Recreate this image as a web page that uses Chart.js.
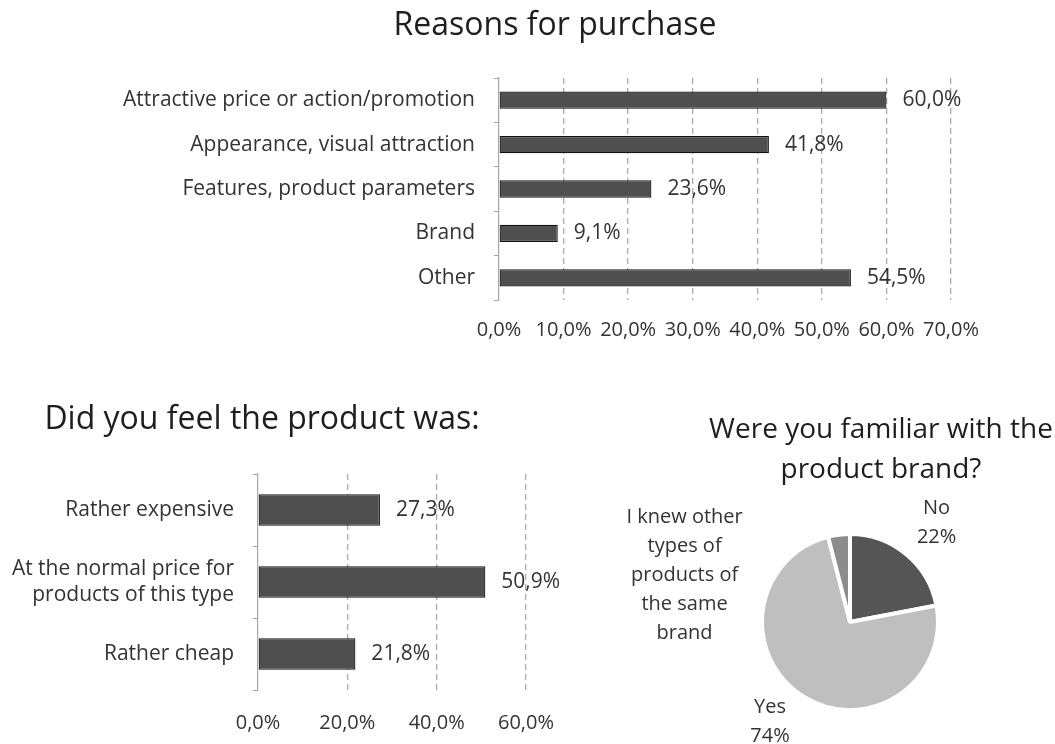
<!DOCTYPE html>
<html>
<head>
<meta charset="utf-8">
<script src="https://cdn.jsdelivr.net/npm/chart.js@4"></script>
<style>
  html, body { margin: 0; padding: 0; background: #fff; overflow: hidden; }
  body { width: 1055px; height: 744px; position: relative; }
  canvas { position: absolute; }
  #reasons { left: 0; top: 0; }
  #priceFeel { left: -2px; top: 395px; }
  #brandPie { left: 600px; top: 395px; }
  .heading {
    position: absolute; text-align: center; color: #1e1e1e;
    font-family: "Open Sans", sans-serif; white-space: nowrap;
  }
  #reasonsTitle { left: 355px; top: 4px; width: 400px; font-size: 32px; line-height: 38px; }
  #brandTitle { left: 706px; top: 407px; width: 350px; font-size: 28px; line-height: 40px; }
</style>
</head>
<body>
<canvas id="reasons" width="1055" height="350"></canvas>
<canvas id="priceFeel" width="620" height="345"></canvas>
<canvas id="brandPie" width="455" height="349"></canvas>
<div id="reasonsTitle" class="heading">Reasons for purchase</div>
<div id="brandTitle" class="heading">Were you familiar with the<br>product brand?</div>
<script>
// Reasons for purchase
const reasonLabels = ['Attractive price or action/promotion', 'Appearance, visual attraction', 'Features, product parameters', 'Brand', 'Other'];
const reasonValues = [60.0, 41.8, 23.6, 9.1, 54.5];
const reasonTicks = [0, 10, 20, 30, 40, 50, 60, 70];

// Did you feel the product was
const priceLabels = ['Rather expensive', ['At the normal price for', 'products of this type'], 'Rather cheap'];
const priceValues = [27.3, 50.9, 21.8];
const priceTicks = [0, 20, 40, 60];

// Brand familiarity
const brandLabels = ['No', 'Yes', 'I knew other types of products of the same brand'];
const brandValues = [22, 74, 4];
const brandText = [['No', '22%'], ['Yes', '74%'], ['I knew other', 'types of', 'products of', 'the same', 'brand']];

const FONT = '"Open Sans", "DejaVu Sans", sans-serif';
const TEXT = '#333333';
const BAR = '#4f4f4f';
const GRID = '#ababab';

const pct = v => Number(v).toFixed(1).replace('.', ',') + '%';

// value label just past the end of each bar
const barValues = {
  id: 'barValues',
  afterDatasetsDraw(chart, args, opts) {
    const ctx = chart.ctx;
    const meta = chart.getDatasetMeta(0);
    ctx.save();
    ctx.font = opts.size + 'px ' + FONT;
    ctx.fillStyle = TEXT;
    ctx.textBaseline = 'middle';
    meta.data.forEach((bar, i) => {
      ctx.fillText(pct(chart.data.datasets[0].data[i]), bar.x + opts.gap, bar.y);
    });
    ctx.restore();
  }
};

function barChart(id, labels, values, ticks, o) {
  return new Chart(document.getElementById(id), {
    type: 'bar',
    data: {
      labels: labels,
      datasets: [{
        data: values,
        backgroundColor: BAR,
        borderColor: '#111111',
        borderWidth: 1.2,
        borderSkipped: false,
        barPercentage: o.barPct,
        categoryPercentage: 1
      }]
    },
    options: {
      indexAxis: 'y',
      responsive: false,
      animation: false,
      layout: { padding: { left: 0, right: o.padRight, top: o.padTop || 0, bottom: 0 } },
      plugins: {
        legend: { display: false },
        tooltip: { enabled: false },
        title: {
          display: !!o.title,
          text: o.title || '',
          color: '#1e1e1e',
          font: { family: FONT, size: 32, weight: 'normal', lineHeight: 1.2 },
          padding: o.titlePad
        },
        barValues: { size: 21, gap: 16 }
      },
      scales: {
        x: {
          min: ticks[0],
          max: ticks[ticks.length - 1],
          afterBuildTicks: s => { s.ticks = ticks.map(v => ({ value: v })); },
          // fixed axis band; end labels may overhang the plot
          afterFit: s => { s.height = 50; s.paddingLeft = 0; s.paddingRight = 0; },
          border: { display: false, dash: [6, 4] },
          grid: {
            drawTicks: false,
            lineWidth: 1.3,
            color: c => (c.tick && c.tick.value === 0) ? 'rgba(0,0,0,0)' : GRID
          },
          ticks: {
            color: TEXT,
            padding: o.xPad,
            font: { family: FONT, size: 20 },
            callback: v => pct(v)
          }
        },
        y: {
          afterFit: s => { s.width = o.axisWidth; },
          border: { display: true, color: '#a6a6a6', width: 1.2 },
          grid: { offset: true, drawOnChartArea: false, drawTicks: true, tickLength: 5, color: '#a6a6a6' },
          ticks: {
            color: TEXT,
            padding: 19,
            font: { family: FONT, size: 21, lineHeight: 1.24 }
          }
        }
      }
    },
    plugins: [barValues]
  });
}

// heading for this one sits in the page, off the plot's centre
barChart('reasons', reasonLabels, reasonValues, reasonTicks, {
  padTop: 78,
  axisWidth: 499,
  padRight: 104,
  xPad: 18,
  barPct: 0.39
});

barChart('priceFeel', priceLabels, priceValues, priceTicks, {
  title: 'Did you feel the product was:',
  titlePad: { top: 5.8, bottom: 34.8 },
  axisWidth: 260,
  padRight: 92,
  xPad: 21,
  barPct: 0.44
});

// pie labels: direction (degrees) and distance (px) from the pie centre
const pieText = {
  id: 'pieText',
  afterDatasetsDraw(chart, args, opts) {
    const ctx = chart.ctx;
    const meta = chart.getDatasetMeta(0);
    ctx.save();
    ctx.font = opts.size + 'px ' + FONT;
    ctx.fillStyle = TEXT;
    ctx.textAlign = 'center';
    ctx.textBaseline = 'middle';
    meta.data.forEach((arc, i) => {
      const p = opts.place[i];
      const a = p.angle * Math.PI / 180;
      const cx = arc.x + Math.cos(a) * p.dist;
      const cy = arc.y + Math.sin(a) * p.dist;
      const lines = brandText[i];
      const top = cy - (lines.length - 1) * opts.lineGap / 2;
      lines.forEach((t, k) => ctx.fillText(t, cx, top + k * opts.lineGap));
    });
    ctx.restore();
  }
};

new Chart(document.getElementById('brandPie'), {
  type: 'pie',
  data: {
    labels: brandLabels,
    datasets: [{
      data: brandValues,
      backgroundColor: ['#555555', '#bfbfbf', '#8c8c8c'],
      borderColor: '#ffffff',
      borderWidth: 4
    }]
  },
  options: {
    responsive: false,
    animation: false,
    layout: { padding: { left: 160, right: 115, top: 137, bottom: 32 } },
    plugins: {
      legend: { display: false },
      tooltip: { enabled: false },
      pieText: {
        size: 20,
        lineGap: 29,
        place: [
          { angle: -49, dist: 132 },
          { angle: 128.7, dist: 128 },
          { angle: 195.9, dist: 172 }
        ]
      }
    }
  },
  plugins: [pieText]
});
</script>
</body>
</html>
